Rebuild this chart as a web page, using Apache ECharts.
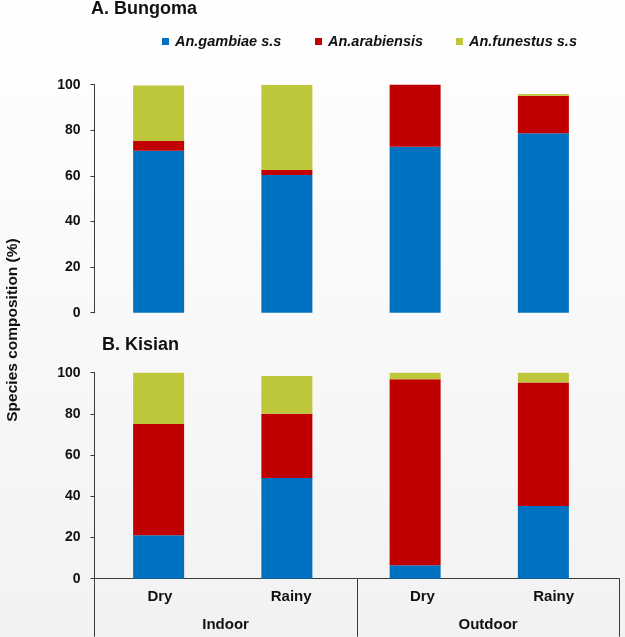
<!DOCTYPE html>
<html>
<head>
<meta charset="utf-8">
<script src="https://cdn.jsdelivr.net/npm/echarts@6/dist/echarts.min.js"></script>
<style>html,body{margin:0;padding:0;background:#fff}#c{width:625px;height:637px}</style>
</head>
<body>
<div id="c"></div>
<script>
// ---- data ----
var seasons = ['Dry', 'Rainy', 'Dry', 'Rainy'];
var locations = ['Indoor', 'Outdoor'];
var speciesNames = ['An.gambiae s.s', 'An.arabiensis', 'An.funestus s.s'];
var yTicks = [0, 20, 40, 60, 80, 100];
// A. Bungoma (% composition)
var bungomaGambiae    = [71.0, 60.4, 72.8, 78.7];
var bungomaArabiensis = [4.3, 2.2, 27.2, 16.5];
var bungomaFunestus   = [24.3, 37.3, 0, 0.7];
// B. Kisian (% composition)
var kisianGambiae    = [21.1, 48.9, 6.5, 35.3];
var kisianArabiensis = [54.0, 31.2, 90.3, 60.0];
var kisianFunestus   = [25.0, 18.3, 3.2, 4.7];

var colors = ['#0070C0', '#C00000', '#BEC63B'];
var FONT = 'Liberation Sans, Arial, sans-serif';
var lineCol = '#3a3a3a';

function yAxisCfg(grid) {
  return {
    type: 'value', gridIndex: grid, min: yTicks[0], max: yTicks[yTicks.length - 1], interval: yTicks[1] - yTicks[0],
    axisLine: { show: true, lineStyle: { color: lineCol, width: 1 } },
    axisTick: { show: true, length: 4, lineStyle: { color: lineCol } },
    splitLine: { show: false },
    axisLabel: { margin: 14, fontFamily: FONT, fontWeight: 'bold', fontSize: 14, color: '#111' }
  };
}
function barSeries(name, data, x, y, color) {
  return { name: name, type: 'bar', stack: 's' + x, xAxisIndex: x, yAxisIndex: y, data: data,
    barWidth: 51, itemStyle: { color: color }, emphasis: { disabled: true } };
}
var legendLefts = [162, 315, 456];
var legends = speciesNames.map(function (n, i) {
  return { data: [n], left: legendLefts[i], top: 34, icon: 'rect', itemWidth: 7, itemHeight: 7, itemGap: 0, padding: 0,
    textStyle: { fontFamily: FONT, fontWeight: 'bold', fontStyle: 'italic', fontSize: 14.5, color: '#111', padding: [0, 0, 0, 1] } };
});

var option = {
  animation: false,
  backgroundColor: { type: 'linear', x: 0, y: 0, x2: 0, y2: 1,
    colorStops: [{ offset: 0, color: '#ffffff' }, { offset: 1, color: '#f2f2f2' }] },
  color: colors,
  title: [
    { text: 'A. Bungoma', left: 91, top: 0, padding: 0, textStyle: { fontFamily: FONT, fontWeight: 'bold', fontSize: 18, color: '#111' } },
    { text: 'B. Kisian', left: 102, top: 336, padding: 0, textStyle: { fontFamily: FONT, fontWeight: 'bold', fontSize: 18, color: '#111' } }
  ],
  legend: legends,
  grid: [
    { left: 94.5, width: 513, top: 84.7, height: 228 },
    { left: 94.5, width: 513, top: 372.7, height: 206 },
    { left: 94.3, width: 525, top: 372.7, height: 206 }
  ],
  xAxis: [
    { type: 'category', gridIndex: 0, data: seasons, show: false },
    { type: 'category', gridIndex: 1, data: seasons, show: false },
    { type: 'category', gridIndex: 2, data: seasons, position: 'bottom',
      axisLine: { show: true, lineStyle: { color: lineCol, width: 1 } }, axisTick: { show: false },
      axisLabel: { margin: 11, fontFamily: FONT, fontWeight: 'bold', fontSize: 15, color: '#111' } },
    { type: 'category', gridIndex: 2, data: locations, position: 'bottom',
      axisLine: { show: false },
      axisTick: { show: true, length: 58, interval: 0, lineStyle: { color: lineCol, width: 1 } },
      axisLabel: { margin: 39, fontFamily: FONT, fontWeight: 'bold', fontSize: 15, color: '#111' } }
  ],
  yAxis: [
    yAxisCfg(0),
    yAxisCfg(1),
    { type: 'value', gridIndex: 2, min: 0, max: 100, show: false }
  ],
  graphic: [
    { type: 'text', x: 13, y: 330, rotation: Math.PI / 2,
      style: { text: 'Species composition (%)', fontFamily: FONT, fontWeight: 'bold', fontSize: 15.5, fill: '#111',
        textAlign: 'center', textVerticalAlign: 'middle' } }
  ],
  series: [
    barSeries(speciesNames[0], bungomaGambiae, 0, 0, colors[0]),
    barSeries(speciesNames[1], bungomaArabiensis, 0, 0, colors[1]),
    barSeries(speciesNames[2], bungomaFunestus, 0, 0, colors[2]),
    barSeries(speciesNames[0], kisianGambiae, 1, 1, colors[0]),
    barSeries(speciesNames[1], kisianArabiensis, 1, 1, colors[1]),
    barSeries(speciesNames[2], kisianFunestus, 1, 1, colors[2])
  ]
};
var chart = echarts.init(document.getElementById('c'), null, { renderer: 'canvas' });
chart.setOption(option);
</script>
</body>
</html>
